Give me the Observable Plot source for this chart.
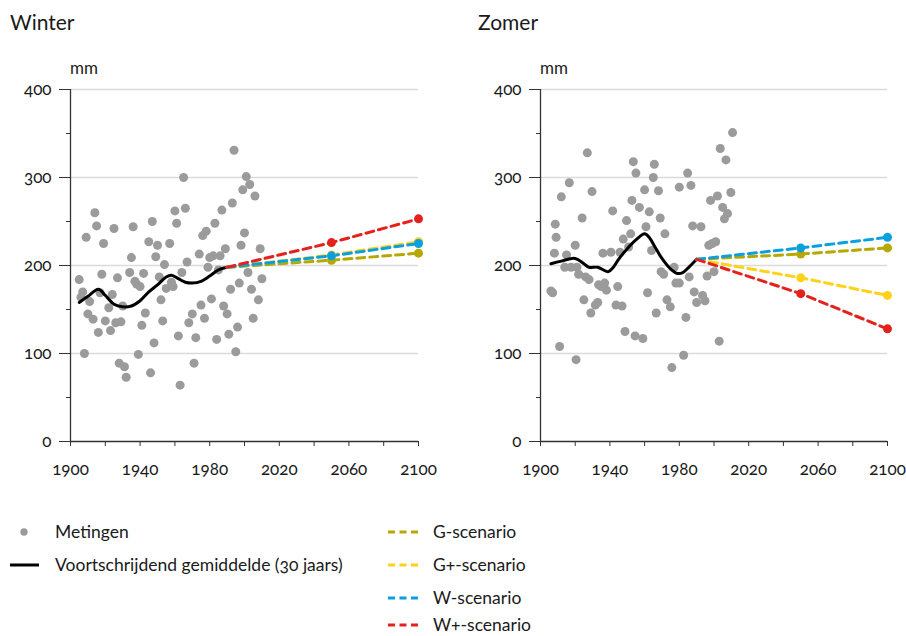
<!DOCTYPE html>
<html>
<head>
<meta charset="utf-8">
<script src="https://cdn.jsdelivr.net/npm/d3@7"></script>
<script src="https://cdn.jsdelivr.net/npm/@observablehq/plot@0.6"></script>
<style>
  html, body { margin: 0; padding: 0; background: #fff; }
  #root { position: relative; width: 906px; height: 636px; overflow: hidden; font-family: Lato, "Noto Sans", sans-serif; color: #1a1a1a; font-variant-numeric: oldstyle-nums; }
  .title { position: absolute; font-size: 21px; line-height: 24px; }
  .unit { position: absolute; font-size: 17px; line-height: 20px; }
  .panel { position: absolute; top: 0; }
  .leg { position: absolute; display: flex; align-items: center; height: 20px; }
  .leg svg { display: block; }
  .lt { position: absolute; font-size: 17.5px; line-height: 20px; white-space: nowrap; }
  svg text { font-variant-numeric: oldstyle-nums; }
</style>
</head>
<body>
<div id="root">
  <div class="title" style="left:10px;top:10px">Winter</div>
  <div class="title" style="left:478px;top:10px">Zomer</div>
  <div class="unit" style="left:70px;top:58px">mm</div>
  <div class="unit" style="left:540px;top:58px">mm</div>
  <div class="panel" id="left" style="left:0px"></div>
  <div class="panel" id="right" style="left:470px"></div>
  <div id="legend"></div>
</div>
<script>
// ---------- Data ----------
const scenarioNames = ["G-scenario", "G+-scenario", "W-scenario", "W+-scenario"];
const scenarioColors = ["#b5a800", "#ffd21a", "#0aa0e0", "#e3221c"];
const scenarioYears = [1990, 2050, 2100];

const winterG  = [198, 206, 214];
const winterGp = [198, 212, 227];
const winterW  = [198, 211, 225];
const winterWp = [198, 226, 253];

const zomerG  = [207, 213, 220];
const zomerGp = [207, 186, 166];
const zomerW  = [207, 220, 232];
const zomerWp = [207, 168, 128];

const winterMetingen = [
  [1905,184],[1907,170],[1906,164],[1908,100],[1909,232],[1910,145],[1911,159],[1913,139],
  [1914,260],[1915,245],[1916,124],[1918,190],[1917,169],[1919,225],[1920,137],[1922,152],
  [1923,126],[1924,167],[1925,242],[1926,135],[1927,186],[1928,89],[1929,136],[1930,154],
  [1931,85],[1932,73],[1934,192],[1935,209],[1936,244],[1937,182],[1938,179],[1940,176],
  [1939,99],[1941,132],[1942,191],[1943,146],[1945,227],[1947,250],[1946,78],[1948,112],
  [1949,210],[1950,223],[1951,187],[1952,161],[1953,137],[1954,201],[1957,225],[1955,174],
  [1960,262],[1961,248],[1965,300],[1966,265],[1958,181],[1959,176],[1962,120],[1963,64],
  [1964,192],[1967,204],[1968,135],[1970,145],[1971,89],[1972,118],[1974,213],[1975,155],
  [1976,234],[1977,140],[1978,239],[1979,198],[1980,209],[1981,162],[1982,211],[1983,248],
  [1984,116],[1986,211],[1987,263],[1985,195],[1988,154],[1989,219],[1990,145],[1991,122],
  [1992,173],[1993,271],[1994,331],[1995,102],[1996,130],[1997,180],[1998,223],[1999,286],
  [2000,237],[2001,301],[2002,192],[2003,292],[2004,173],[2005,140],[2006,279],[2008,161],
  [2009,219],[2010,185]
];

const zomerMetingen = [
  [1906,171],[1907,169],[1908.5,247],[1909,232],[1908,214],[1911,108],[1912,278],[1914,198],
  [1915,212],[1916.6,294],[1917.6,198],[1920,223],[1920.5,93],[1921,198],[1922,190],[1924,254],
  [1925,161],[1926,187],[1927,328],[1928,184],[1929,146],[1929.7,284],[1931.6,155],[1933,158],
  [1933.5,178],[1935,176],[1936,214],[1937,180],[1938,172],[1940.6,215],[1941.6,262],[1943.5,155],
  [1944.5,176],[1945.8,215],[1947,154],[1947.7,230],[1948.7,125],[1949.6,251],[1950.8,221],[1952,236],
  [1952.7,274],[1953.5,318],[1954.5,120],[1955,305],[1957,266],[1960,286],[1960.8,244],[1962.7,261],
  [1964,217],[1965,300],[1965.6,315],[1968,285],[1969,254],[1971.7,236],[1961.7,169],[1959,117],
  [1966.7,146],[1969.5,193],[1971,190],[1972.9,161],[1974.8,153],[1975.7,84],[1977,198],[1978,180],
  [1980,180],[1980,289],[1982.5,98],[1983.8,141],[1984.8,305],[1985.7,187],[1986.7,291],[1987.7,245],
  [1988.6,170],[1990,158],[1992.5,244],[1993.4,166],[1994.8,160],[1996,188],[1997,223],[1998,274],
  [1999,225],[2000,193],[2001,227],[2002,279],[2003,114],[2003.6,333],[2005,266],[2006,253],
  [2006.9,320],[2007.8,259],[2009.7,283],[2010.7,351]
];

const winterGemiddelde = [
  [1905,158],[1910,165],[1916,173],[1920,166],[1925,156],[1930,153],[1935,154],[1940,160],
  [1945,170],[1950,178],[1955,187],[1958,189],[1962,185],[1966,181],[1970,180],[1975,182],
  [1980,188],[1985,195],[1990,198]
];

const zomerGemiddelde = [
  [1906,202],[1912,205],[1920,208],[1925,202],[1928,198],[1933,198],[1939,193],[1942,198],
  [1945,207],[1950,219],[1955,229],[1960,236],[1963,231],[1966,221],[1970,208],[1975,196],
  [1979,191],[1982,192],[1985,197],[1990,207]
];

const yTicks = [0, 100, 200, 300, 400];
const yMinorTicks = [50, 150, 250, 350];
const xTicks = [1900, 1920, 1940, 1960, 1980, 2000, 2020, 2040, 2060, 2080, 2100];
const xLabels = [1900, 1940, 1980, 2020, 2060, 2100];

// ---------- Build ----------
function scenRows(series) {
  const rows = [];
  series.forEach((vals, s) => {
    vals.forEach((v, i) => rows.push({scenario: scenarioNames[s], year: scenarioYears[i], value: v}));
  });
  return rows;
}

function panel(pts, mean, series, width, marginRight) {
  const rows = scenRows(series);
  return Plot.plot({
    width, height: 490,
    marginLeft: 70, marginRight, marginTop: 89, marginBottom: 49,
    x: {domain: [1900, 2100]},
    y: {domain: [0, 400]},
    color: {domain: scenarioNames, range: scenarioColors},
    style: {fontFamily: "Lato, 'Noto Sans', sans-serif", fontSize: "17px", color: "#1a1a1a", background: "transparent", overflow: "visible"},
    marks: [
      Plot.ruleY([100, 200, 300, 400], {stroke: "#dadada", strokeWidth: 1.4}),
      Plot.axisY({ticks: yTicks, tickSize: 11, tickPadding: 8, label: null, fontSize: 17, stroke: "#333", tickFormat: d => String(d)}),
      Plot.axisY({ticks: yMinorTicks, tickSize: 4, label: null, stroke: "#333", tickFormat: () => ""}),
      Plot.axisX({ticks: xTicks, tickSize: 5, label: null, stroke: "#333", tickFormat: () => ""}),
      Plot.axisX({ticks: xLabels, tickSize: 0, tickPadding: 21, label: null, fontSize: 17, tickFormat: d => String(d)}),
      Plot.ruleX([1900], {stroke: "#333", strokeWidth: 1.3}),
      Plot.ruleY([0], {stroke: "#333", strokeWidth: 1.3}),
      Plot.dot(pts, {x: d => d[0], y: d => d[1], r: 4.5, fill: "#9b9b9b", stroke: "none"}),
      Plot.line(mean, {x: d => d[0], y: d => d[1], stroke: "#000", strokeWidth: 3, curve: "catmull-rom"}),
      Plot.line(rows, {x: "year", y: "value", z: "scenario", stroke: "scenario", strokeWidth: 3, strokeDasharray: "8,5"}),
      Plot.dot(rows.filter(d => d.year > 2000), {x: "year", y: "value", fill: "scenario", r: 4.5, stroke: "none"})
    ]
  });
}

document.getElementById("left").appendChild(
  panel(winterMetingen, winterGemiddelde, [winterG, winterGp, winterW, winterWp], 453, 35));
document.getElementById("right").appendChild(
  panel(zomerMetingen, zomerGemiddelde, [zomerG, zomerGp, zomerW, zomerWp], 436, 19));

// ---------- Legend ----------
const legend = document.getElementById("legend");
function item(left, center, swatch, text, textLeft) {
  const sw = document.createElement("div");
  sw.className = "leg";
  sw.style.left = left + "px";
  sw.style.top = (center - 10) + "px";
  sw.innerHTML = swatch;
  legend.appendChild(sw);
  const t = document.createElement("div");
  t.className = "lt";
  t.style.left = textLeft + "px";
  t.style.top = (center - 10) + "px";
  t.textContent = text;
  legend.appendChild(t);
}
item(19, 532, '<svg width="10" height="10"><circle cx="5" cy="5" r="3.7" fill="#9b9b9b"/></svg>', "Metingen", 55);
item(10, 565, '<svg width="30" height="10"><line x1="0" x2="29" y1="5" y2="5" stroke="#000" stroke-width="3"/></svg>', "Voortschrijdend gemiddelde (30 jaars)", 55);
scenarioNames.forEach((n, i) => {
  item(388, Math.min(532 + i * 33, 625), 
    `<svg width="32" height="10"><line x1="0" x2="30" y1="5" y2="5" stroke="${scenarioColors[i]}" stroke-width="3" stroke-dasharray="7,4.5"/></svg>`,
    n, 433);
});
</script>
</body>
</html>
